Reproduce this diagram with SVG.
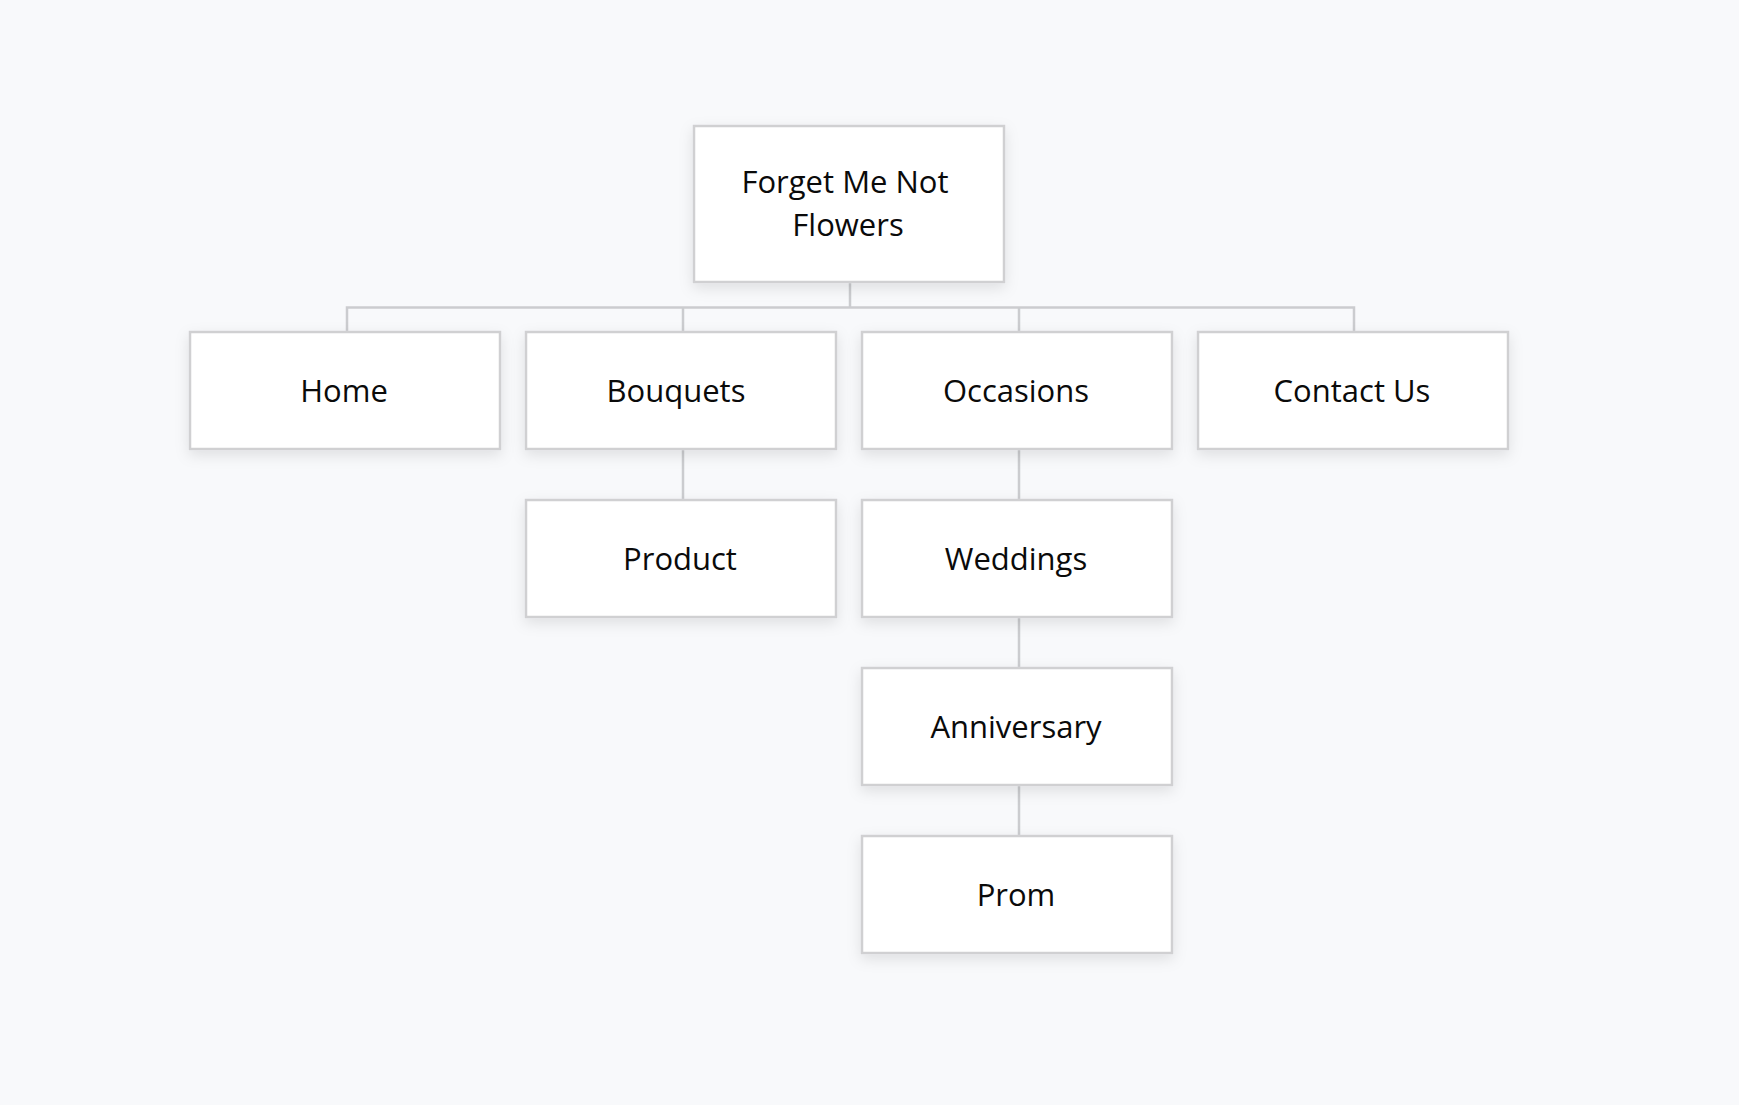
<svg xmlns="http://www.w3.org/2000/svg" width="1739" height="1105" viewBox="0 0 1739 1105">
<defs>
<filter id="sh" x="-20%" y="-20%" width="140%" height="150%">
<feDropShadow dx="0" dy="5" stdDeviation="7" flood-color="#000" flood-opacity="0.10"/>
</filter>
<style>
.box{fill:#ffffff;stroke:#d0d0d2;stroke-width:2.5;filter:url(#sh)}
.lbl{font-family:"Open Sans","Noto Sans",sans-serif;font-size:31px;fill:#0a0a0a;text-anchor:middle}
.edge{fill:none;stroke:#cbcccf;stroke-width:2.5}
</style>
</defs>
<rect width="1739" height="1105" fill="#f8f9fb"/>
<g id="connectors">
<path class="edge" d="M850 282 V307.5"/>
<path class="edge" d="M347 332 V307.5 H1354 V332"/>
<path class="edge" d="M683 307.5 V332"/>
<path class="edge" d="M1019 307.5 V332"/>
<path class="edge" d="M683 449 V500"/>
<path class="edge" d="M1019 449 V500"/>
<path class="edge" d="M1019 617 V668"/>
<path class="edge" d="M1019 785 V836"/>
</g>
<g id="root">
<rect class="box" x="694" y="126" width="310" height="156"/>
<text class="lbl" x="845" y="193">Forget Me Not</text>
<text class="lbl" x="848" y="236">Flowers</text>
</g>
<g id="home">
<rect class="box" x="190" y="332" width="310" height="117"/>
<text class="lbl" x="344" y="402">Home</text>
</g>
<g id="bouquets">
<rect class="box" x="526" y="332" width="310" height="117"/>
<text class="lbl" x="676" y="402">Bouquets</text>
</g>
<g id="occasions">
<rect class="box" x="862" y="332" width="310" height="117"/>
<text class="lbl" x="1016" y="402">Occasions</text>
</g>
<g id="contact">
<rect class="box" x="1198" y="332" width="310" height="117"/>
<text class="lbl" x="1352" y="402">Contact Us</text>
</g>
<g id="product">
<rect class="box" x="526" y="500" width="310" height="117"/>
<text class="lbl" x="680" y="570">Product</text>
</g>
<g id="weddings">
<rect class="box" x="862" y="500" width="310" height="117"/>
<text class="lbl" x="1016" y="570">Weddings</text>
</g>
<g id="anniversary">
<rect class="box" x="862" y="668" width="310" height="117"/>
<text class="lbl" x="1016" y="738">Anniversary</text>
</g>
<g id="prom">
<rect class="box" x="862" y="836" width="310" height="117"/>
<text class="lbl" x="1016" y="906">Prom</text>
</g>
</svg>
